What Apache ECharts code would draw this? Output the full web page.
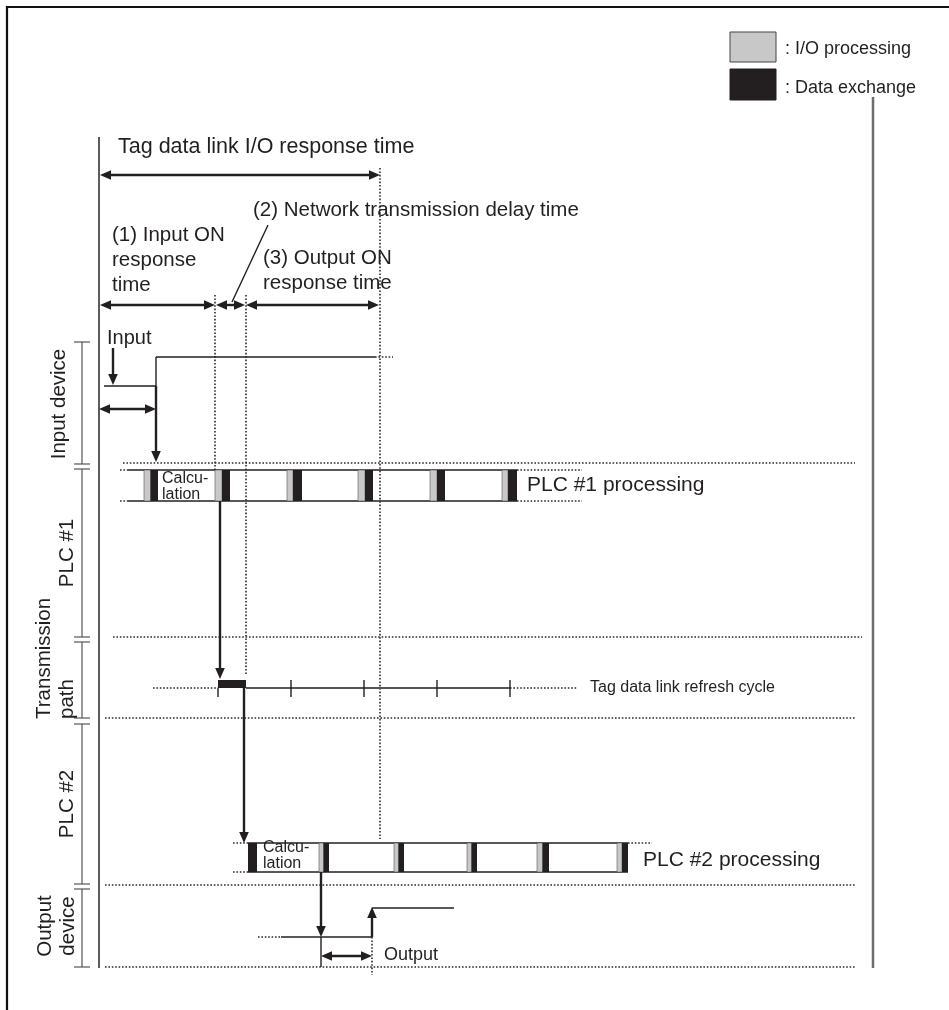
<!DOCTYPE html>
<html><head><meta charset="utf-8">
<script src="https://cdn.jsdelivr.net/npm/echarts@6/dist/echarts.min.js"></script>
<style>html,body{margin:0;padding:0;background:#fff}#c{width:949px;height:1010px}</style>
</head><body><div id="c"></div>
<script>
// ---- Diagram data (time on x, lane level on y, in diagram units) ----
const laneLabels = ['Input device', 'PLC #1', 'Transmission\npath', 'PLC #2', 'Output\ndevice'];
const laneRanges = [[342, 464], [469, 637], [642, 718], [724, 884], [889, 967]];
// label anchor and alignment along the lane (center, or start from lane bottom)
const laneLabelAt = [[59, 404], [67, 553], [56, 719], [67, 804], [57, 926]];
const laneLabelAlign = ['center', 'center', 'left', 'center', 'center'];

// PLC #1 cycle: I/O processing start, I/O end, data-exchange end
const plc1Cycles = [[144, 150.5, 158], [215, 222, 230], [287, 293, 302], [358, 365, 373], [430, 437, 445], [502, 508, 517]];
const plc1Level = [470, 501];
// PLC #2 cycle
const plc2Cycles = [[248, 248, 257], [319, 323.5, 329], [394, 398.5, 404], [467, 471.5, 477], [537, 542.5, 549], [617, 622, 628]];
const plc2Level = [843, 872];
// Transmission path: data exchange and refresh cycle ticks
const txExchange = [218, 246];
const txLevel = [680, 688, 697];
const refreshTicks = [291, 364, 437, 510];

const solidLines = [
  [104, 386, 156, 386], [156, 357, 156, 386], [156, 357, 375, 357],
  [128, 470, 517, 470], [128, 501, 517, 501],
  [248, 843, 628, 843], [248, 872, 628, 872],
  [281, 937, 372, 937], [372, 908, 454, 908], [321, 937, 321, 967],
  [268, 225, 232, 302],
  [218, 688, 218, 697], [246, 688, 291, 688]
];
const txLine = [[291, 688, 510, 688]];
const dottedLines = [
  [380, 168, 380, 839], [215, 295, 215, 470], [246, 295, 246, 674],
  [375, 357, 393, 357],
  [123, 463, 855, 463],
  [120, 470, 128, 470], [120, 501, 128, 501], [517, 470, 582, 470], [517, 501, 582, 501],
  [113, 637, 862, 637],
  [153, 688, 218, 688], [510, 688, 577, 688],
  [105, 718, 855, 718],
  [233, 843, 248, 843], [233, 872, 248, 872], [628, 843, 652, 843],
  [105, 885, 855, 885],
  [258, 937, 281, 937], [372, 937, 372, 975],
  [105, 967, 855, 967]
];
const singleArrows = [
  [113, 348, 113, 385], [156, 386, 156, 462], [220, 501, 220, 679],
  [244, 688, 244, 843], [321, 872, 321, 937], [372, 937, 372, 907]
];
const doubleArrows = [
  [100, 175, 380, 175], [100, 305, 215, 305], [216, 305, 245, 305], [246, 305, 379, 305],
  [99, 409, 156, 409], [321, 956, 372, 956]
];
const axisLines = [[99, 137, 99, 968]];
const rightLine = [[873, 97, 873, 968]];
const frameRect = [[7, 7, 1000, 1100]];
const legendRects = [[730, 32, 776, 62, 0], [730, 69, 776, 100, 1]];

// Texts: [text, x, y, fontSize]
const texts = [
  ['Tag data link I/O response time', 118, 147, 21.5],
  ['(2) Network transmission delay time', 253, 210, 20.5],
  ['(1) Input ON', 112, 235, 20.5], ['response', 112, 260, 20.5], ['time', 112, 285, 20.5],
  ['(3) Output ON', 263, 258, 20.5], ['response time', 263, 283, 20.5],
  ['Input', 107, 338, 20],
  ['Calcu-', 162, 479, 16], ['lation', 162, 495, 16],
  ['PLC #1 processing', 527, 485, 21],
  ['Tag data link refresh cycle', 590, 688, 16],
  ['Calcu-', 263, 848, 16], ['lation', 263, 864, 16],
  ['PLC #2 processing', 643, 860, 21],
  ['Output', 384, 955, 18],
  [': I/O processing', 785, 49, 18], [': Data exchange', 785, 88, 18]
];

const INK = '#231f20';
const GRAY = '#c8c8c8';
const FONT = '"Liberation Sans", Arial, Helvetica, sans-serif';

function base(data, renderItem, z) {
  return { type: 'custom', coordinateSystem: 'cartesian2d', silent: true, animation: false, clip: false, z: z || 2, data: data, renderItem: renderItem };
}
function segs(data, style, z) {
  return base(data, function (p, api) {
    const a = api.coord([api.value(0), api.value(1)]);
    const b = api.coord([api.value(2), api.value(3)]);
    return { type: 'line', shape: { x1: a[0], y1: a[1], x2: b[0], y2: b[1] }, style: Object.assign({ fill: null }, style) };
  }, z);
}
function arrows(data, dbl, z) {
  return base(data, function (p, api) {
    const a = api.coord([api.value(0), api.value(1)]);
    const b = api.coord([api.value(2), api.value(3)]);
    const dx = b[0] - a[0], dy = b[1] - a[1];
    const len = Math.sqrt(dx * dx + dy * dy);
    const ux = dx / len, uy = dy / len, nx = -uy, ny = ux;
    const L = 11, W = 4.8;
    function head(t, s) {
      const bx = t[0] - s * ux * L, by = t[1] - s * uy * L;
      return { type: 'polygon', shape: { points: [[t[0], t[1]], [bx + nx * W, by + ny * W], [bx - nx * W, by - ny * W]] }, style: { fill: INK } };
    }
    const s0 = dbl ? [a[0] + ux * (L - 2), a[1] + uy * (L - 2)] : a;
    const s1 = [b[0] - ux * (L - 2), b[1] - uy * (L - 2)];
    const children = [{ type: 'line', shape: { x1: s0[0], y1: s0[1], x2: s1[0], y2: s1[1] }, style: { stroke: INK, lineWidth: 2.4 } }, head(b, 1)];
    if (dbl) children.push(head(a, -1));
    return { type: 'group', children: children };
  }, z);
}
function cycles(data, level, z) {
  return base(data, function (p, api) {
    const s = api.value(0), m = api.value(1), e = api.value(2);
    const tl = api.coord([s, level[0]]), mid = api.coord([m, level[1]]), br = api.coord([e, level[1]]);
    const children = [];
    if (m > s) children.push({ type: 'rect', shape: { x: tl[0], y: tl[1], width: mid[0] - tl[0], height: mid[1] - tl[1] }, style: { fill: GRAY, stroke: '#555', lineWidth: 0.6 } });
    children.push({ type: 'rect', shape: { x: mid[0], y: tl[1], width: br[0] - mid[0], height: br[1] - tl[1] }, style: { fill: INK } });
    return { type: 'group', children: children };
  }, z);
}

const series = [
  base(frameRect, function (p, api) {
    const a = api.coord([api.value(0), api.value(1)]), b = api.coord([api.value(2), api.value(3)]);
    return { type: 'rect', shape: { x: a[0], y: a[1], width: b[0] - a[0], height: b[1] - a[1] }, style: { fill: null, stroke: '#111', lineWidth: 2.2 } };
  }, 1),
  segs(axisLines, { stroke: '#333', lineWidth: 1.6 }),
  segs(rightLine, { stroke: '#6e6e6e', lineWidth: 2.5 }),
  segs(dottedLines, { stroke: '#2a2a2a', lineWidth: 1.6, lineDash: [1.6, 1.8] }),
  segs(solidLines, { stroke: INK, lineWidth: 1.4 }),
  segs(txLine, { stroke: '#555', lineWidth: 2 }),
  base(refreshTicks, function (p, api) {
    const a = api.coord([api.value(0), txLevel[0]]), b = api.coord([api.value(0), txLevel[2]]);
    return { type: 'line', shape: { x1: a[0], y1: a[1], x2: b[0], y2: b[1] }, style: { stroke: INK, lineWidth: 1.4 } };
  }),
  // lane brackets
  base(laneRanges, function (p, api) {
    const a = api.coord([82, api.value(0)]), b = api.coord([82, api.value(1)]);
    const st = { stroke: '#555', lineWidth: 1.2 };
    return { type: 'group', children: [
      { type: 'line', shape: { x1: a[0], y1: a[1], x2: b[0], y2: b[1] }, style: st },
      { type: 'line', shape: { x1: a[0] - 8, y1: a[1], x2: a[0] + 8, y2: a[1] }, style: st },
      { type: 'line', shape: { x1: b[0] - 8, y1: b[1], x2: b[0] + 8, y2: b[1] }, style: st }
    ] };
  }),
  base(laneLabelAt.map(function (d, i) { return [d[0], d[1], i]; }), function (p, api) {
    const a = api.coord([api.value(0), api.value(1)]);
    const i = api.value(2);
    return { type: 'text', x: a[0], y: a[1], rotation: Math.PI / 2, style: { text: laneLabels[i], font: '20.5px ' + FONT, fill: INK, align: laneLabelAlign[i], verticalAlign: 'middle', lineHeight: 23 } };
  }),
  cycles(plc1Cycles, plc1Level, 3),
  cycles(plc2Cycles, plc2Level, 3),
  base([[txExchange[0], txLevel[0], txExchange[1], txLevel[1]]], function (p, api) {
    const a = api.coord([api.value(0), api.value(1)]), b = api.coord([api.value(2), api.value(3)]);
    return { type: 'rect', shape: { x: a[0], y: a[1], width: b[0] - a[0], height: b[1] - a[1] }, style: { fill: INK } };
  }, 3),
  arrows(singleArrows, false, 4),
  arrows(doubleArrows, true, 4),
  base(legendRects, function (p, api) {
    const a = api.coord([api.value(0), api.value(1)]), b = api.coord([api.value(2), api.value(3)]);
    const dark = api.value(4) === 1;
    return { type: 'rect', shape: { x: a[0], y: a[1], width: b[0] - a[0], height: b[1] - a[1] }, style: { fill: dark ? INK : GRAY, stroke: dark ? INK : '#444', lineWidth: 1 } };
  }),
  base(texts.map(function (t, i) { return [t[1], t[2], i]; }), function (p, api) {
    const a = api.coord([api.value(0), api.value(1)]);
    const t = texts[api.value(2)];
    return { type: 'text', x: a[0], y: a[1], style: { text: t[0], font: t[3] + 'px ' + FONT, fill: INK, align: 'left', verticalAlign: 'middle' } };
  }, 5)
];

const chart = echarts.init(document.getElementById('c'));
chart.setOption({
  animation: false,
  backgroundColor: '#fff',
  grid: { left: 0, right: 0, top: 0, bottom: 0 },
  xAxis: { type: 'value', min: 0, max: 949, show: false },
  yAxis: { type: 'value', min: 0, max: 1010, inverse: true, show: false },
  series: series
});
</script></body></html>
